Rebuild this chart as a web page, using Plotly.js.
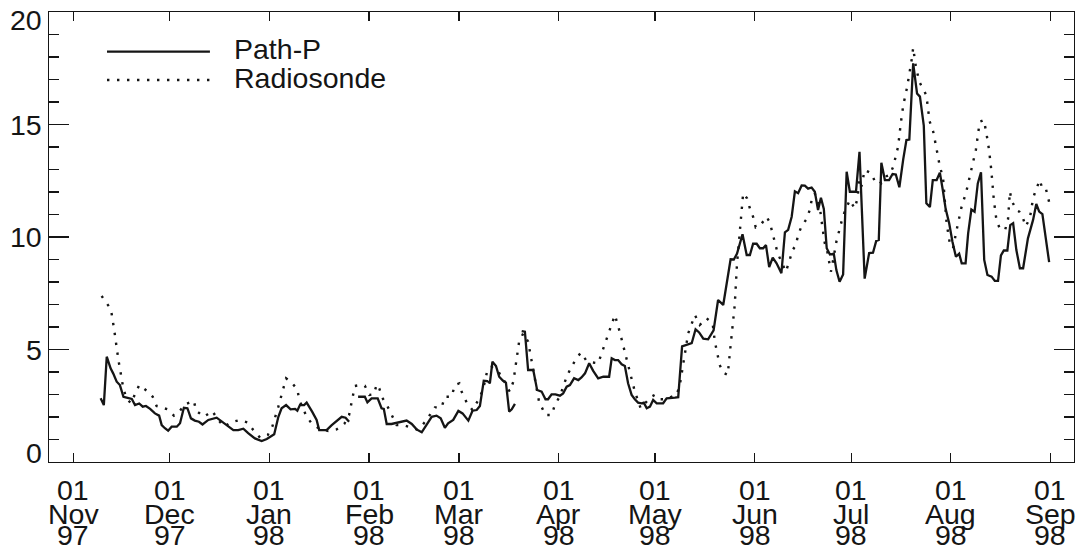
<!DOCTYPE html>
<html>
<head>
<meta charset="utf-8">
<script src="https://cdn.plot.ly/plotly-3.0.1.min.js"></script>
<style>
  html, body { margin: 0; padding: 0; background: #fff; }
  #chart { width: 1082px; height: 550px; }
</style>
</head>
<body>
<div id="chart"></div>
<script>
// Days are counted from 1997-11-01; values are precipitable water (mm).
const seriesNames = ['Path-P', 'Radiosonde'];

// Path-P retrieval (null marks a break in the record)
const pathDay = [8.5, 9.5, 10.4, 11.6, 12.4, 13.5, 14.5, 15.6, 16.6, 18.2, 19.2, 20.5, 21.6, 22.6, 23.9,
  25.4, 26.7, 27.5, 28.5, 29.5, 30.6, 32.2, 33.2, 34.4, 35.5, 36.6, 37.8, 39.1, 40.2, 42.0, 44.6, 45.6,
  47.7, 49.8, 51.3, 52.9, 54.4, 56.5, 58.6, 60.2, 62.5, 63.8, 64.8, 66.2, 67.6, 69.0, 69.7, 70.5, 71.8,
  72.6, 74.3, 75.7, 76.5, 78.8, 80.4, 81.9, 83.5, 84.7, 85.8, 87.2, 88.6, 90.7, 91.5, 92.8, 94.7, 95.9,
  96.6, 97.5, 99.0, 101.1, 103.7, 105.3, 106.8, 108.4, 109.9, 111.5, 113.0, 114.3, 115.6, 116.6, 118.2,
  119.8, 121.1, 122.9, 124.2, 125.5, 126.5, 127.7, 128.8, 129.6, 130.4, 131.5, 132.5, 133.7, 134.6, 135.6,
  136.4, 137.4, 138.5, 139.5, 140.5, 141.5, 143.1, 144.3, 145.7, 146.9, 147.7, 148.8, 150.0, 151.4, 152.4,
  153.5, 154.5, 155.8, 157.1, 158.1, 159.2, 160.5, 161.7, 163.3, 164.9, 166.7, 167.5, 168.5, 169.5, 170.6,
  171.6, 172.6, 173.7, 174.7, 175.7, 176.8, 177.5, 178.4, 179.4, 180.4, 181.5, 183.5, 184.6, 187.2, 188.2,
  189.4, 190.8, 192.4, 193.6, 194.7, 196.0, 197.5, 199.2, 200.6, 202.2, 204.5, 205.5, 206.5, 208.2, 209.5,
  210.5, 211.5, 212.6, 213.6, 214.6, 215.5, 216.5, 217.6, 218.8, 220.3, 221.4, 222.4, 223.5, 224.5, 225.5,
  226.6, 227.6, 228.6, 229.7, 230.7, 231.7, 232.6, 233.5, 234.4, 235.4, 236.6, 237.4, 238.4, 239.5, 240.6,
  241.6, 243.5, 244.6, 246.2, 247.6, 248.8, 249.8, 250.6, 251.4, 252.5, 253.8, 254.9, 255.9, 257.0, 258.2,
  259.2, 260.1, 261.3, 262.5, 263.4, 264.6, 265.4, 266.5, 267.4, 268.6, 269.6, 270.5, 271.4, 272.5, 273.5,
  274.6, 275.6, 276.4, 277.6, 278.4, 279.4, 280.4, 281.4, 282.4, 283.4, 284.4, 285.7, 286.7, 287.7, 288.6,
  289.5, 290.6, 291.5, 292.4, 293.4, 294.5, 295.5, 297.0, 298.6, 299.6, 300.5, 301.5, 303.6];
const pathVal = [2.83, 2.53, 4.68, 4.16, 3.94, 3.57, 3.42, 2.90, 2.86, 2.80, 2.53, 2.60, 2.46, 2.49, 2.36,
  2.16, 2.06, 1.64, 1.50, 1.39, 1.57, 1.57, 1.72, 2.41, 2.39, 1.94, 1.84, 1.79, 1.67, 1.87, 1.97, 1.87,
  1.64, 1.42, 1.42, 1.48, 1.28, 1.05, 0.93, 1.02, 1.23, 2.01, 2.39, 2.53, 2.34, 2.36, 2.28, 2.53, 2.53,
  2.64, 2.24, 1.87, 1.42, 1.42, 1.64, 1.82, 2.01, 1.97, 1.79, null, 2.90, 2.90, 2.65, 2.83, 2.83, 2.39,
  2.36, 1.69, 1.69, 1.75, 1.84, 1.69, 1.45, 1.32, 1.64, 2.01, 2.06, 1.94, 1.52, 1.72, 1.87,
  2.27, 2.16, 1.84, 2.28, 2.31, 2.49, 3.61, 3.60, 3.50, 4.46, 4.27, 3.79, 3.61, 3.53, 2.24,
  2.34, 2.58, null, 5.82, 5.79, 4.09, 4.09, 3.20, 3.13, 2.79, 2.79, 3.01, 3.01, 2.95, 3.05,
  3.35, 3.42, 3.72, 3.64, 3.76, 3.94, 4.39, 4.06, 3.72, 3.79, 3.79, 4.61, 4.53, 4.53, 4.34,
  4.27, 3.50, 2.98, 2.79, 2.64, 2.61, 2.64, 2.39, 2.46, 2.76, 2.61, 2.61, 2.83, 2.86, 2.88,
  5.14, 5.20, 5.28, 5.90, 5.76, 5.48, 5.45, 5.85, 7.20, 6.98, 9.01, 9.00, 9.26, 10.12, 9.20,
  9.20, 9.70, 9.70, 9.50, 9.50, 9.64, 8.66, 9.08, 8.83, 8.39, 10.21, 10.32, 10.90, 12.03, 11.95,
  12.29, 12.28, 12.15, 12.20, 12.01, 11.20, 11.74, 11.25, 9.50, 9.22, 9.26, 8.53, 8.01, 8.33, 12.90,
  12.01, 12.01, 13.79, 8.15, 9.29, 9.30, 9.83, 9.87, 13.30, 12.53, 12.53, 12.80, 12.78, 12.21, 13.45,
  14.31, 14.33, 17.72, 16.38, 16.24, 14.95, 11.50, 11.33, 12.53, 12.53, 12.86, 12.10, 11.25, 10.61, 9.80,
  9.12, 9.26, 8.83, 8.83, 10.16, 11.22, 11.12, 12.38, 12.88, 8.98, 8.31, 8.24, 8.05, 8.05, 9.18,
  9.40, 9.40, 10.53, 10.61, 9.42, 8.61, 8.61, 9.94, 10.76, 11.47, 11.13, 11.02, 8.88];

// Radiosonde soundings
const sondeDay = [8.8, 10.2, 11.7, 12.7, 14.0, 15.6, 16.6, 17.9, 19.2, 20.5, 22.8, 24.7, 25.9, 27.8, 29.4,
  31.3, 33.0, 34.7, 37.5, 38.2, 40.7, 43.2, 45.1, 46.9, 49.0, 51.9, 54.2, 56.0, 58.1, 60.5, 61.9, 63.8,
  65.3, 66.2, 67.9, 69.7, 70.3, 72.6, 74.3, 76.7, 79.3, 81.9, 84.3, 85.8, 87.6, 89.2, 90.7, 92.1, 93.5,
  94.4, 95.2, 96.1, 97.7, 99.0, 100.6, 102.6, 105.3, 106.8, 107.8, 109.9, 112.5, 114.6, 115.6, 117.7,
  118.7, 120.1, 120.8, 122.4, 124.2, 126.3, 127.5, 128.8, 130.1, 131.7, 133.3, 134.8, 135.8, 136.9,
  138.7, 140.0, 141.5, 143.9, 144.9, 146.9, 148.8, 149.8, 151.4, 153.5, 155.0, 156.6, 157.9, 159.5,
  161.2, 163.3, 165.4, 167.5, 168.5, 170.0, 171.6, 173.1, 174.7, 176.5, 178.0, 179.6, 180.9, 182.5,
  184.6, 186.1, 187.7, 188.7, 190.3, 191.3, 193.4, 194.9, 197.0, 198.9, 199.6, 201.1, 202.2, 203.6,
  204.3, 205.1, 205.8, 206.5, 207.9, 208.4, 209.6, 210.5, 211.5, 212.3, 213.8, 215.7, 216.7, 217.5,
  219.1, 220.3, 221.7, 222.7, 223.8, 224.8, 225.5, 226.6, 228.1, 229.2, 229.7, 230.7, 232.3, 233.1,
  233.8, 234.5, 235.7, 236.4, 237.4, 239.0, 240.0, 241.6, 243.1, 244.0, 244.5, 245.2, 246.2, 248.3,
  249.4, 250.4, 251.4, 253.0, 254.0, 255.1, 256.6, 257.4, 258.2, 259.4, 260.5, 260.9, 261.3, 262.1,
  263.2, 264.6, 265.4, 266.4, 267.5, 268.4, 269.5, 270.6, 271.7, 272.7, 273.7, 274.8, 276.3, 277.8,
  279.2, 280.8, 282.0, 283.3, 284.1, 284.9, 285.6, 286.4, 287.2, 288.2, 289.9, 290.8, 291.4, 291.9,
  293.3, 294.3, 295.3, 296.3, 297.6, 298.6, 299.6, 300.7, 301.5, 302.6, 303.6];
const sondeVal = [7.38, 7.10, 6.79, 5.90, 4.56, 3.24, 2.83, 2.61, 3.01, 3.42, 3.17, 2.90, 2.49, 2.39, 2.34,
  2.06, 2.24, 2.56, 2.72, 2.28, 2.01, 2.27, 1.87, 1.57, 1.76, 1.87, 1.76, 1.42, 1.08, 1.20, 1.57, 2.46,
  3.27, 3.72, 3.53, 3.23, 2.76, 2.01, 1.69, 1.47, 1.38, 1.45, 1.69, 2.09, 3.38, 3.42, 3.39, 2.98, 3.01,
  3.45, 3.27, 2.86, 2.49, 2.12, 1.64, 1.64, 1.50, 1.45, 1.50, 1.87, 2.43, 2.43, 2.90, 2.90,
  3.42, 3.50, 3.13, 2.64, 2.31, 2.83, 3.23, 4.06, 4.24, 4.01, 3.87, 3.35, 3.13, 3.57,
  5.35, 5.72, 5.35, 3.57, 2.68, 2.09, 2.09, 2.53, 2.93, 3.79, 4.24, 4.61, 4.86, 4.53,
  4.43, 4.39, 5.28, 6.19, 6.53, 5.79, 4.90, 4.01, 3.13, 2.39, 2.64, 2.88, 2.98, 2.79,
  2.79, 2.90, 2.98, 3.42, 4.83, 5.72, 6.53, 6.09, 6.39, 6.16, 5.35, 4.31, 3.97, 3.87,
  4.90, 6.00, 7.00, 8.83, 10.98, 11.94, 11.72, 11.27, 10.90, 10.43, 10.53, 10.90, 10.64, 10.16,
  9.30, 8.90, 8.46, 8.90, 9.42, 9.64, 10.09, 10.49, 10.79, 11.23, 11.64, 11.94, 11.27, 10.39,
  9.72, 9.42, 8.46, 8.98, 9.79, 10.68, 11.13, 11.64, 11.27, 11.72, 12.53, 12.24, 12.98, 12.83,
  12.46, 12.53, 12.39, 12.70, 12.76, 13.13, 14.01, 15.00, 15.85, 16.65, 17.50, 17.94, 18.41, 17.60,
  16.90, 16.50, 16.30, 15.15, 14.70, 14.05, 13.20, 12.61, 10.61, 9.72, 9.50, 10.30, 11.31, 12.00,
  12.90, 13.87, 15.12, 15.20, 14.60, 13.87, 12.98, 11.64, 10.76, 10.39, 10.31, 10.78, 12.02, 11.64,
  11.20, 11.13, 10.90, 10.47, 10.83, 11.72, 12.14, 12.53, 12.14, 12.14, 11.55];

// Month ticks and their three-line labels
const tickDates = ['1997-11-01', '1997-12-01', '1998-01-01', '1998-02-01', '1998-03-01', '1998-04-01',
  '1998-05-01', '1998-06-01', '1998-07-01', '1998-08-01', '1998-09-01'];
const tickDay = ['01', '01', '01', '01', '01', '01', '01', '01', '01', '01', '01'];
const tickMonth = ['Nov', 'Dec', 'Jan', 'Feb', 'Mar', 'Apr', 'May', 'Jun', 'Jul', 'Aug', 'Sep'];
const tickYear = ['97', '97', '98', '98', '98', '98', '98', '98', '98', '98', '98'];
const yTickVals = [0, 5, 10, 15, 20];

const DAY_MS = 86400000;
const origin = Date.UTC(1997, 10, 1);
function toDate(d) {
  return new Date(origin + d * DAY_MS).toISOString().slice(0, 19).replace('T', ' ');
}

const INK = '#151515';
const FONT = '"Liberation Sans", Arial, Helvetica, sans-serif';
const LABEL_SIZE = 28.5;
const solidStyle = { color: INK, width: 2.3, dash: 'solid' };
const dotStyle = { color: INK, width: 2.4, dash: '2.4px,7.6px' };

const traces = [
  {
    x: pathDay.map(toDate), y: pathVal, name: seriesNames[0],
    type: 'scatter', mode: 'lines', line: solidStyle, connectgaps: false
  },
  {
    x: sondeDay.map(toDate), y: sondeVal, name: seriesNames[1],
    type: 'scatter', mode: 'lines', line: dotStyle
  }
];

// Stacked day / month / year labels under each month tick
const annotations = [];
const rows = [[tickDay, -27.5], [tickMonth, -51.5], [tickYear, -72.6]];
rows.forEach(([labels, shift]) => {
  labels.forEach((txt, i) => {
    annotations.push({
      text: txt, x: tickDates[i], xref: 'x', y: 0, yref: 'paper',
      xanchor: 'center', yanchor: 'middle', yshift: shift, showarrow: false,
      font: { family: FONT, size: LABEL_SIZE, color: INK }
    });
  });
});
// Value labels; the end labels sit inside the axis span
yTickVals.forEach((v, i) => {
  let shift = 0;
  if (i === 0) shift = 9.5;
  if (i === yTickVals.length - 1) shift = -7.5;
  annotations.push({
    text: String(v), x: 0, xref: 'paper', y: v, yref: 'y',
    xanchor: 'right', yanchor: 'middle', xshift: -5, yshift: shift, showarrow: false,
    font: { family: FONT, size: LABEL_SIZE, color: INK }
  });
});

// Key in the upper-left corner
const keyStyles = [solidStyle, dotStyle];
const keyY = [0.9118, 0.8489];
const shapes = [];
seriesNames.forEach((name, i) => {
  shapes.push({
    type: 'line', xref: 'paper', yref: 'paper', x0: 0.0566, x1: 0.157, y0: keyY[i], y1: keyY[i],
    line: keyStyles[i]
  });
  annotations.push({
    text: name, x: 0.1785, xref: 'paper', y: keyY[i] + 0.005, yref: 'paper',
    xanchor: 'left', yanchor: 'middle', showarrow: false,
    font: { family: FONT, size: LABEL_SIZE, color: INK }
  });
});

const layout = {
  width: 1082, height: 550,
  margin: { l: 49, r: 8, t: 12, b: 88 },
  paper_bgcolor: '#ffffff', plot_bgcolor: '#ffffff',
  showlegend: false, hovermode: false,
  font: { family: FONT, size: LABEL_SIZE, color: INK },
  xaxis: {
    type: 'date', range: ['1997-10-24 10:30', '1998-09-08 08:00'],
    tickmode: 'array', tickvals: tickDates, showticklabels: false,
    ticks: 'inside', ticklen: 9, tickwidth: 1.2, tickcolor: INK,
    showline: true, linecolor: INK, linewidth: 1.3, mirror: 'ticks',
    showgrid: false, zeroline: false
  },
  yaxis: {
    range: [0, 20], tickmode: 'array', tickvals: yTickVals, showticklabels: false,
    ticks: 'inside', ticklen: 20, tickwidth: 1.2, tickcolor: INK,
    minor: { dtick: 1, ticks: 'inside', ticklen: 10, tickwidth: 1.2, tickcolor: INK, showgrid: false },
    showline: true, linecolor: INK, linewidth: 1.3, mirror: 'ticks',
    showgrid: false, zeroline: false
  },
  annotations: annotations,
  shapes: shapes
};

Plotly.newPlot('chart', traces, layout, { displayModeBar: false, staticPlot: true });
</script>
</body>
</html>
